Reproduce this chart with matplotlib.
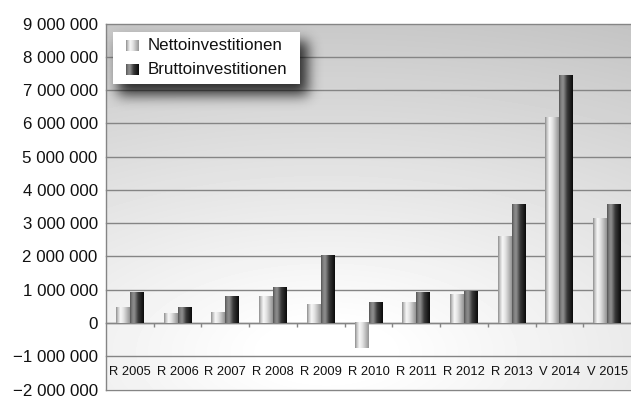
import numpy as np
import matplotlib
matplotlib.use("Agg")
import matplotlib.pyplot as plt
from matplotlib.patches import Rectangle


# Investitionen je Jahr (R = Rechnung, V = Voranschlag)
years = ["R 2005", "R 2006", "R 2007", "R 2008", "R 2009", "R 2010",
         "R 2011", "R 2012", "R 2013", "V 2014", "V 2015"]
netto = [470000, 280000, 320000, 790000, 550000, -760000,
         610000, 850000, 2590000, 6190000, 3130000]
brutto = [910000, 470000, 790000, 1060000, 2020000, 610000,
          910000, 940000, 3550000, 7450000, 3550000]
y_ticks = list(range(-2000000, 9000001, 1000000))
series_names = ["Nettoinvestitionen", "Bruttoinvestitionen"]

GRID = "#858585"
LABEL_FONT = ["Liberation Sans", "DejaVu Sans"]


def ramp(stops, n=96):
    pos, val = zip(*stops)
    return np.interp(np.linspace(0, 1, n), pos, val)


# metallic looking horizontal shading of the bars
netto_shade = ramp([(0, 0.55), (0.12, 0.75), (0.32, 0.97), (0.55, 0.88), (1, 0.58)])
brutto_shade = ramp([(0, 0.33), (0.15, 0.5), (0.3, 0.56), (0.6, 0.22), (1, 0.04)])


def blur(a, sigma):
    r = int(3 * sigma)
    k = np.exp(-0.5 * (np.arange(-r, r + 1) / sigma) ** 2)
    k /= k.sum()
    a = np.apply_along_axis(lambda m: np.convolve(m, k, mode="same"), 0, a)
    a = np.apply_along_axis(lambda m: np.convolve(m, k, mode="same"), 1, a)
    return a


fig = plt.figure(figsize=(6.31, 3.96), dpi=100)
ax = fig.add_axes([106 / 631, 1 - 389.5 / 396, 525 / 631, 366 / 396])

# plot area size in pixels, used for the background and legend
W, H = 525, 366


def px(x, y):
    return x / W, 1 - y / H


# radial grey background, light towards the lower middle
gx, gy = np.meshgrid(np.linspace(0, 1, W), np.linspace(1, 0, H))
r = np.sqrt(((gx - 0.42) / 1.5) ** 2 + ((gy - 0.1) / 1.0) ** 2)
bg = np.clip(1.02 - 0.26 * r, 0, 1)
ax.imshow(bg, cmap="gray", vmin=0, vmax=1, extent=(0, 1, 0, 1),
          transform=ax.transAxes, aspect="auto", zorder=0, interpolation="bilinear")

# horizontal grid lines incl. top and bottom border
for v in y_ticks:
    ax.axhline(v, color=GRID, lw=1.0, zorder=1, clip_on=False)

x = np.arange(len(years))
bw = 0.293
bars_n = ax.bar(x - bw / 2, netto, bw, color="none", zorder=3)
bars_b = ax.bar(x + bw / 2, brutto, bw, color="none", zorder=3)
for bars, shade in ((bars_n, netto_shade), (bars_b, brutto_shade)):
    for b in bars:
        x0 = b.get_x()
        y0 = b.get_y()
        ax.imshow(shade[None, :], cmap="gray", vmin=0, vmax=1,
                  extent=(x0, x0 + b.get_width(), y0, y0 + b.get_height()),
                  aspect="auto", zorder=3, interpolation="bilinear")

# category labels sit between the -1 Mio and -2 Mio lines
for i, name in enumerate(years):
    ax.text(i, -1480000, name, ha="center", va="center", fontsize=9.3,
            family=LABEL_FONT, color="#111111", zorder=4)

# legend with soft drop shadow
shadow = np.zeros((H, W))
shadow[18:72, 12:202] = 1.0
shadow = blur(shadow, 6.5) * 0.78
rgba = np.zeros((H, W, 4))
rgba[..., 3] = shadow
ax.imshow(rgba, extent=(0, 1, 0, 1), transform=ax.transAxes, aspect="auto",
          zorder=5, interpolation="bilinear")

lx0, ly0 = px(7, 60)
lx1, ly1 = px(194, 8)
ax.add_patch(Rectangle((lx0, ly0), lx1 - lx0, ly1 - ly0, transform=ax.transAxes,
                       facecolor="white", edgecolor="none", zorder=6))
for row, (name, shade) in enumerate(zip(series_names, (netto_shade, brutto_shade))):
    cy = 22.5 + row * 23.5
    sx0, sy0 = px(20, cy + 5.5)
    sx1, sy1 = px(32.5, cy - 5.5)
    ax.imshow(shade[None, :], cmap="gray", vmin=0, vmax=1,
              extent=(sx0, sx1, sy0, sy1), transform=ax.transAxes,
              aspect="auto", zorder=7, interpolation="bilinear")
    tx, ty = px(41.5, cy)
    ax.text(tx, ty, name, transform=ax.transAxes, ha="left", va="center",
            fontsize=12.2, family=LABEL_FONT, color="#111111", zorder=8)

# axes: left border, zero line carries the category ticks
for s in ("top", "right"):
    ax.spines[s].set_visible(False)
ax.spines["left"].set_color(GRID)
ax.spines["left"].set_linewidth(1.0)
ax.spines["bottom"].set_position(("data", 0))
ax.spines["bottom"].set_color(GRID)
ax.spines["bottom"].set_linewidth(1.0)

ax.set_xticks(np.arange(0.5, len(years) - 0.5, 1))
ax.set_xticklabels([])
ax.tick_params(axis="x", direction="out", length=3, color=GRID, width=1.0)

ax.set_yticks(y_ticks)
ax.set_yticklabels([f"{v:,}".replace(",", " ").replace("-", "\u2212") for v in y_ticks],
                   family=LABEL_FONT, fontsize=12.2, color="#111111")
ax.tick_params(axis="y", length=0, pad=6)

ax.set_xlim(-0.5, len(years) - 0.5)
ax.set_ylim(-2000000, 9000000)

fig.savefig("out.png", dpi=100)
